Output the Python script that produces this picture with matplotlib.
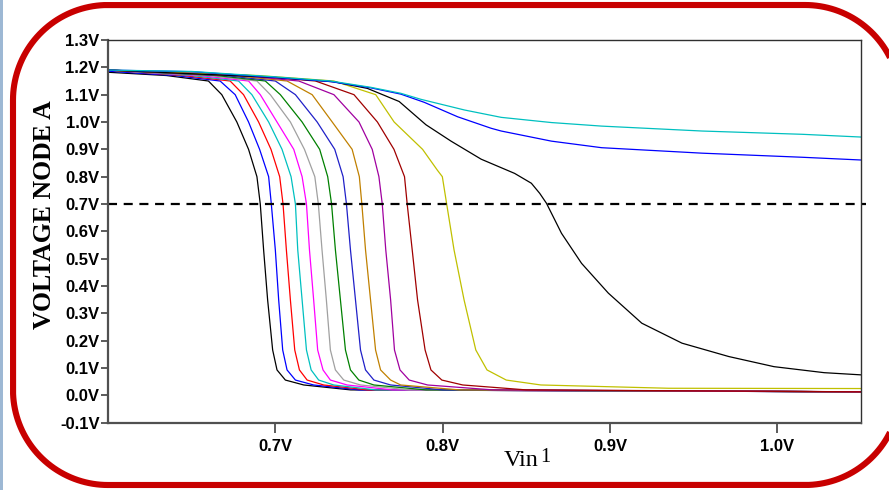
import matplotlib
matplotlib.use('Agg')
import numpy as np
import matplotlib.pyplot as plt
from matplotlib.lines import Line2D
from matplotlib.patches import Rectangle
from matplotlib.transforms import IdentityTransform

# level set shared by the steep transfer curves (V at node A)
lv = [1.17, 1.15, 1.10, 1.00, 0.90, 0.80, 0.70, 0.532, 0.349, 0.166, 0.093, 0.056, 0.038, 0.02, 0.013]

# Vin where each steep curve reaches the levels above (first point is Vin=0.6)
x_black = [0.600, 0.635, 0.660, 0.668, 0.677, 0.684, 0.689, 0.691, 0.693, 0.6954, 0.6984, 0.701, 0.706, 0.717, 0.745, 1.05]
x_blue = [0.600, 0.640, 0.667, 0.676, 0.684, 0.6906, 0.696, 0.6976, 0.700, 0.702, 0.7044, 0.707, 0.712, 0.7229, 0.750, 1.05]
x_red = [0.600, 0.645, 0.673, 0.681, 0.690, 0.6974, 0.7026, 0.7046, 0.7066, 0.7090, 0.7116, 0.7144, 0.7190, 0.7289, 0.755, 1.05]
x_cyan = [0.600, 0.650, 0.678, 0.686, 0.696, 0.704, 0.7094, 0.7120, 0.7134, 0.7160, 0.7186, 0.7214, 0.7259, 0.7349, 0.760, 1.05]
x_magenta = [0.600, 0.655, 0.684, 0.691, 0.701, 0.711, 0.716, 0.7186, 0.7204, 0.7229, 0.7253, 0.7285, 0.7329, 0.7429, 0.770, 1.05]
x_gray = [0.600, 0.660, 0.689, 0.697, 0.709, 0.7174, 0.7236, 0.7257, 0.7279, 0.7305, 0.7329, 0.7359, 0.7409, 0.7509, 0.780, 1.05]
x_green = [0.600, 0.665, 0.694, 0.703, 0.716, 0.7265, 0.7313, 0.7336, 0.7359, 0.7389, 0.7419, 0.7449, 0.7499, 0.7589, 0.790, 1.05]
x_blue2 = [0.600, 0.670, 0.700, 0.712, 0.725, 0.7355, 0.7405, 0.7425, 0.7449, 0.7479, 0.7509, 0.7539, 0.7589, 0.7689, 0.800, 1.05]
x_gold = [0.600, 0.675, 0.707, 0.722, 0.734, 0.7459, 0.7502, 0.7517, 0.7539, 0.7569, 0.7599, 0.7629, 0.7689, 0.7749, 0.810, 1.05]
x_purple = [0.600, 0.680, 0.714, 0.735, 0.750, 0.7579, 0.7619, 0.7639, 0.7660, 0.7689, 0.7712, 0.7745, 0.7800, 0.7910, 0.830, 1.05]
x_maroon = [0.600, 0.685, 0.724, 0.747, 0.761, 0.7709, 0.7772, 0.7788, 0.7818, 0.7850, 0.7895, 0.7930, 0.7995, 0.8120, 0.850, 1.05]
start_v = [1.182, 1.186, 1.19, 1.19, 1.19, 1.19, 1.19, 1.19, 1.19, 1.19, 1.19]

# slower curves
x_yellow = [0.600, 0.690, 0.735, 0.760, 0.771, 0.788, 0.7968, 0.7998, 0.8024, 0.8068, 0.8128, 0.8198, 0.8265, 0.838, 0.8587, 0.935, 1.05]
y_yellow = [1.19, 1.17, 1.15, 1.10, 1.00, 0.90, 0.824, 0.80, 0.70, 0.532, 0.349, 0.166, 0.093, 0.056, 0.038, 0.026, 0.025]
x_black2 = [0.600, 0.700, 0.735, 0.755, 0.774, 0.790, 0.805, 0.823, 0.843, 0.853, 0.858, 0.862, 0.867, 0.871, 0.883, 0.899, 0.919, 0.943, 0.971, 0.998, 1.028, 1.05]
y_black2 = [1.19, 1.163, 1.147, 1.123, 1.075, 0.99, 0.93, 0.864, 0.812, 0.776, 0.739, 0.703, 0.642, 0.593, 0.483, 0.374, 0.264, 0.191, 0.142, 0.105, 0.083, 0.075]
x_blueflat = [0.600, 0.650, 0.700, 0.733, 0.757, 0.775, 0.789, 0.809, 0.829, 0.835, 0.865, 0.895, 0.955, 1.015, 1.05]
y_blueflat = [1.19, 1.184, 1.163, 1.148, 1.125, 1.102, 1.072, 1.019, 0.977, 0.967, 0.93, 0.906, 0.886, 0.871, 0.861]
x_cyantop = [0.600, 0.650, 0.700, 0.733, 0.757, 0.775, 0.787, 0.813, 0.835, 0.865, 0.895, 0.955, 1.015, 1.05]
y_cyantop = [1.19, 1.185, 1.165, 1.15, 1.127, 1.105, 1.083, 1.044, 1.017, 0.998, 0.985, 0.967, 0.955, 0.945]

steep = [x_black, x_blue, x_red, x_cyan, x_magenta, x_gray, x_green,
         x_blue2, x_gold, x_purple, x_maroon]
steep_colors = ['#000000', '#0000ff', '#ff0000', '#00c0c0', '#ff00ff', '#a0a0a0',
                '#008000', '#2020c8', '#c08000', '#a000a0', '#a00000']

yticks = [-0.1, 0.0, 0.1, 0.2, 0.3, 0.4, 0.5, 0.6, 0.7, 0.8, 0.9, 1.0, 1.1, 1.2, 1.3]
xticks = [0.7, 0.8, 0.9, 1.0]
threshold = 0.7

plt.rcParams['lines.scale_dashes'] = False
fig = plt.figure(figsize=(8.89, 4.9), dpi=100)
fig.patch.set_facecolor('white')

# slide frame in output pixels, y up; the right side runs off the slide
px = IdentityTransform()
fig.add_artist(Rectangle((0, 0), 3, 490, transform=px,
                         facecolor='#9db8d4', edgecolor='none'))
left, right, bottom, top, r = 13, 900, 5, 485, 95
t = np.linspace(0, np.pi / 2, 40)
fx, fy = [], []
for cx, cy, a0 in [(right - r, top - r, 0.0), (left + r, top - r, np.pi / 2),
                   (left + r, bottom + r, np.pi), (right - r, bottom + r, 1.5 * np.pi)]:
    fx += list(cx + r * np.cos(a0 + t))
    fy += list(cy + r * np.sin(a0 + t))
fx.append(fx[0])
fy.append(fy[0])
fx = np.array(fx)
fy = np.array(fy)
fx[fx > 893] = np.nan
fig.add_artist(Line2D(fx, fy, transform=px, color='#c80000', lw=4.4,
                      solid_capstyle='butt', solid_joinstyle='round'))

ax = fig.add_axes([108 / 889, 1 - 422.7 / 490, 753 / 889, 382.7 / 490])

for xs, s, c in zip(steep, start_v, steep_colors):
    ax.plot(xs, [s] + lv, color=c, lw=0.9)
ax.plot(x_yellow, y_yellow, color='#c0c000', lw=0.9)
ax.plot(x_black2, y_black2, color='#000000', lw=0.9)
ax.plot(x_blueflat, y_blueflat, color='#0000ff', lw=0.9)
ax.plot(x_cyantop, y_cyantop, color='#00c0c0', lw=0.9)

ax.plot([0.6, 1.053], [threshold, threshold], color='black', lw=1.6,
        dashes=(6.5, 4.8), clip_on=False)

ax.set_xlim(0.6, 1.05)
ax.set_ylim(-0.1, 1.3)
ax.set_yticks(yticks)
ax.set_yticklabels(['%.1fV' % v for v in yticks])
ax.set_xticks(xticks)
ax.set_xticklabels(['%.1fV' % v for v in xticks])

for lab in ax.get_yticklabels() + ax.get_xticklabels():
    lab.set_family('Liberation Sans')
    lab.set_fontweight('bold')
    lab.set_fontsize(12)
ax.tick_params(axis='y', direction='out', length=5, width=1.2, color='#404040', pad=1)
ax.tick_params(axis='x', direction='out', length=7, width=1.2, color='#404040', pad=5)

for side in ['left', 'bottom']:
    ax.spines[side].set_color('#505050')
    ax.spines[side].set_linewidth(1.6)
for side in ['top', 'right']:
    ax.spines[side].set_color('#303030')
    ax.spines[side].set_linewidth(1.0)

fig.text(45 / 889, 1 - 215 / 490, 'VOLTAGE NODE A', rotation=90, ha='center', va='center',
         family='Liberation Serif', fontweight='bold', fontsize=18.5)
fig.text(504 / 889, 1 - 466 / 490, 'Vin', ha='left', va='baseline',
         family='Liberation Serif', fontsize=17.5)
fig.text(540 / 889, 1 - 462 / 490, '1', ha='left', va='baseline',
         family='Liberation Serif', fontsize=14.5)

fig.savefig('out.png', dpi=100)
